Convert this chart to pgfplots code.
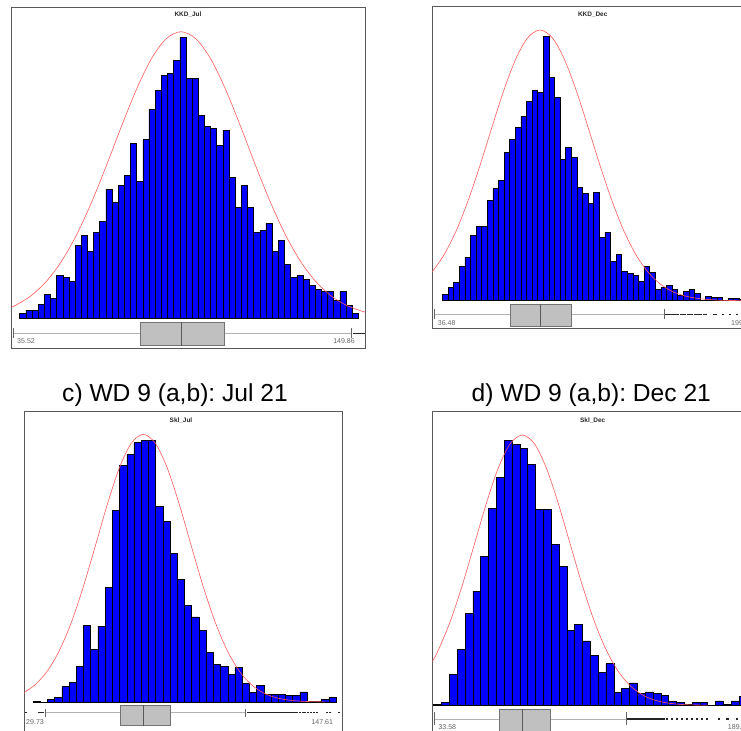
\documentclass[border=0pt]{standalone}
\usepackage{fontspec}
\setmainfont{Liberation Sans}
\usepackage{pgfplots}
\usepackage{pgfplotstable}
\pgfplotsset{compat=1.18}
\frenchspacing

\definecolor{fitred}{RGB}{255,90,90}
\definecolor{boxgray}{RGB}{192,192,192}

% all panel coordinates are in pixels of the source figure:
% x = horizontal position, y = height above the histogram base line
\pgfplotsset{
  panel/.style={scale only axis, axis line style={draw=black!65, line width=0.6pt},
    xtick=\empty, ytick=\empty},
  hist/.style={ybar interval, fill=blue, draw=black, line width=0.45pt},
  fit/.style={smooth, draw=fitred, line width=0.5pt},
  whisk/.style={draw=black!30, line width=0.8pt},
  wtick/.style={draw=black!60, line width=0.5pt},
  bx/.style={fill=boxgray, draw=black!55, line width=0.6pt},
  med/.style={draw=black!65, line width=0.6pt},
  outl/.style={only marks, mark=-, mark size=0.9pt, mark options={line width=1.2pt, draw=black!85}},
}
\tikzset{
  minmax/.style={font=\fontsize{6}{7}\selectfont, text=black!60, inner sep=0pt},
  subt/.style={font=\fontsize{5.5}{6}\selectfont\bfseries, text=black!85, inner sep=0pt},
}

\pgfplotstableread{
h
5
8.3
8.3
14
24
20
42.7
40.7
37.3
73.3
82.7
66.7
86
97.3
129.3
116
133.3
142.7
175
137.3
179
209.3
227.7
243.3
245
258.3
280.7
240
240
203.3
192.3
190
172.7
188.3
140.7
110.7
133.3
110.7
86
87.7
95.3
66.7
78
54
40.7
42.7
39
32.7
29.3
27.3
27.3
18
27.3
13.3
4.7
0
}\kkdjul

\pgfplotstableread{
h
6.3
13
18
34.3
43.3
65.7
74
74
100.7
112
120.3
148.3
161.7
173
184.3
199.7
210.3
208.3
264.7
223.7
203
141.7
153.3
143
113.7
107.3
97.3
108.3
63.7
68.3
39
46
29.7
27.7
25.7
19.7
34.3
28.3
11.3
13.7
15
11.3
5
9
11.3
7.7
0
4
3
3.7
0
2.3
2.3
1.5
1
0
}\kkddec

\pgfplotstableread{
h
1
0
3
4.7
15.3
19.7
35.8
77
52.7
76
114.3
191.7
236.3
248
259.7
261.3
261.3
195.3
181
148.5
123
97
85.2
71.6
49.5
37.3
35.5
27.3
34.5
18.5
10
17
7.6
7.6
7.6
6.3
6.3
10.2
0.8
0.8
3
4.8
0
}\skljul

\pgfplotstableread{
h
1.3
3
31.3
56
91.7
114.3
149
196.7
228.3
265
261.3
256.7
241.3
196.3
196.3
161.3
139
75.3
80.7
64.5
50.2
33
41.7
13.3
16.8
22.5
11.7
13.5
11.8
10
4.3
3
1.3
3
3
0
4.5
1.3
4.5
9
0
}\skldec

\begin{document}
\begin{tikzpicture}
\useasboundingbox (0,0) rectangle (22.23cm,-21.9cm);
\clip (0,0) rectangle (22.23cm,-21.9cm);
\fill[white] (0,0) rectangle (22.23cm,-21.9cm);

% a) KKD_Jul
\begin{axis}[panel, at={(0.33cm,-10.449cm)}, anchor=south west,
  width=10.62cm, height=10.23cm, xmin=11, xmax=365, ymin=-30, ymax=311]
\addplot[hist] table[x expr={19.7+\coordindex*6.157}, y=h] {\kkdjul};
\addplot[fit] coordinates {
  (11,10.9) (16,13.2) (31,22.5) (46,36.5) (61,56.3) (76,82.4) (91,114.7)
  (106,151.7) (121,190.8) (136,227.9) (151,258.9) (166,279.4) (181,286.6)
  (196,279.4) (211,258.9) (226,227.9) (241,190.8) (256,151.7) (271,114.7)
  (286,82.4) (301,56.3) (316,36.5) (331,22.5) (346,13.2) (361,7.4) (365,6.2)};
\addplot[whisk] coordinates {(13.7,-15) (351.7,-15)};
\addplot[wtick] coordinates {(13.7,-10) (13.7,-20)};
\addplot[wtick] coordinates {(351.7,-10) (351.7,-20)};
\addplot[bx] coordinates {(140,-4) (224.3,-4) (224.3,-27.4) (140,-27.4)} -- cycle;
\addplot[med] coordinates {(181,-4) (181,-27.4)};
\addplot[outl] coordinates {(354,-15) (356.5,-15) (359,-15) (361.5,-15) (364,-15)};
\node[subt] at (axis cs:188,303.3) {KKD\_Jul};
\node[minmax, anchor=west] at (axis cs:17,-22.4) {35.52};
\node[minmax, anchor=east] at (axis cs:355,-22.4) {149.86};
\end{axis}

% b) KKD_Dec
\begin{axis}[panel, at={(12.969cm,-9.849cm)}, anchor=south west,
  width=9.621cm, height=9.669cm, xmin=432.3, xmax=753, ymin=-27.6, ymax=294.7]
\addplot[hist] table[x expr={442.5+\coordindex*5.6}, y=h] {\kkddec};
\addplot[fit] coordinates {
  (432.3,29.0) (444,45.9) (456,69.5) (468,99.8) (480,135.3) (492,173.7)
  (504,210.9) (516,242.3) (528,263.3) (540,270.7) (552,263.3) (564,242.3)
  (576,210.9) (588,173.7) (600,135.3) (612,99.8) (624,69.5) (636,45.9)
  (648,28.6) (660,16.9) (672,9.4) (684,5.0) (696,2.5) (708,1.2) (720,0.5)
  (732,0.2) (753,0.05)};
\addplot[whisk] coordinates {(434.3,-13.6) (664.3,-13.6)};
\addplot[wtick] coordinates {(434.3,-8.6) (434.3,-18.6)};
\addplot[wtick] coordinates {(664.3,-8.6) (664.3,-18.6)};
\addplot[bx] coordinates {(510,-3.3) (571.3,-3.3) (571.3,-25.3) (510,-25.3)} -- cycle;
\addplot[med] coordinates {(540.3,-3.3) (540.3,-25.3)};
\addplot[outl] coordinates {(666,-13.6) (668,-13.6) (670,-13.6) (672,-13.6)
  (674,-13.6) (676,-13.6) (678,-13.6) (681,-13.6) (683,-13.6) (685,-13.6)
  (688,-13.6) (690,-13.6) (692,-13.6) (695,-13.6) (697,-13.6) (699,-13.6)
  (701,-13.6) (704,-13.6) (706,-13.6) (714,-13.6) (716,-13.6) (723.3,-13.6)
  (730,-13.6) (736.7,-13.6) (745,-13.6)};
\node[subt] at (axis cs:592.7,285.7) {KKD\_Dec};
\node[minmax, anchor=west] at (axis cs:437.7,-22) {36.48};
\node[minmax, anchor=west] at (axis cs:731,-22) {199.86};
\end{axis}

% c) Skl_Jul
\node[anchor=base, font=\fontsize{21}{25}\selectfont] at (5.25cm,-12.051cm) {c) WD 9 (a,b): Jul 21};
\begin{axis}[panel, at={(0.72cm,-21.96cm)}, anchor=south west,
  width=9.561cm, height=9.609cm, xmin=24, xmax=342.7, ymin=-30, ymax=290.3]
\addplot[hist] table[x expr={33+\coordindex*7.214}, y=h] {\skljul};
\addplot[fit] coordinates {
  (24,9.6) (35.3,17.4) (47.3,30.9) (59.3,51.3) (71.3,79.5) (83.3,115.2)
  (95.3,156.0) (107.3,197.6) (119.3,233.9) (131.3,258.8) (143.3,267.7)
  (155.3,258.8) (167.3,233.9) (179.3,197.6) (191.3,156.0) (203.3,115.2)
  (215.3,79.5) (227.3,51.3) (239.3,30.9) (251.3,17.4) (263.3,9.2)
  (275.3,4.5) (287.3,2.1) (299.3,0.9) (311.3,0.4) (325,0.15)};
\addplot[whisk] coordinates {(45.7,-10.3) (245,-10.3)};
\addplot[wtick] coordinates {(45.7,-6.5) (45.7,-14.5)};
\addplot[wtick] coordinates {(245,-6.5) (245,-14.5)};
\addplot[bx] coordinates {(120,-3) (170,-3) (170,-23.7) (120,-23.7)} -- cycle;
\addplot[med] coordinates {(143.3,-3) (143.3,-23.7)};
\addplot[outl] coordinates {(26,-10.3) (39.5,-10.3) (42.5,-10.3)
  (248,-10.3) (250,-10.3) (252,-10.3) (254.5,-10.3) (257,-10.3) (259,-10.3)
  (261,-10.3) (263.5,-10.3) (266,-10.3) (268,-10.3) (270.5,-10.3) (273,-10.3)
  (275,-10.3) (277.5,-10.3) (280,-10.3) (282,-10.3) (284.5,-10.3) (287,-10.3)
  (289.5,-10.3) (292,-10.3) (294.5,-10.3) (297,-10.3) (300,-10.3) (303,-10.3)
  (305,-10.3) (308,-10.3) (311,-10.3) (314,-10.3) (317,-10.3)
  (327,-10.3) (330,-10.3) (339,-10.3)};
\node[subt] at (axis cs:181,281.3) {Skl\_Jul};
\node[minmax, anchor=west] at (axis cs:26,-20.3) {29.73};
\node[minmax, anchor=east] at (axis cs:333.3,-20.3) {147.61};
\end{axis}

% d) Skl_Dec
\node[anchor=base, font=\fontsize{21}{25}\selectfont] at (17.739cm,-12.051cm) {d) WD 9 (a,b): Dec 21};
\begin{axis}[panel, at={(12.969cm,-22.35cm)}, anchor=south west,
  width=9.621cm, height=9.999cm, xmin=432.3, xmax=753, ymin=-39.7, ymax=293.6]
\addplot[hist] table[x expr={433.7+\coordindex*7.83}, y=h] {\skldec};
\addplot[fit] coordinates {
  (432.3,43.6) (438.3,55.1) (450.3,84.0) (462.3,120.1) (474.3,160.8)
  (486.3,201.8) (498.3,237.4) (510.3,261.7) (522.3,270.3) (534.3,261.7)
  (546.3,237.4) (558.3,201.8) (570.3,160.8) (582.3,120.1) (594.3,84.0)
  (606.3,55.1) (618.3,33.9) (630.3,19.5) (642.3,10.5) (654.3,5.3)
  (666.3,2.5) (678.3,1.1) (690.3,0.45) (708,0.15)};
\addplot[whisk] coordinates {(434,-13.7) (626,-13.7)};
\addplot[wtick] coordinates {(434,-7) (434,-19.7)};
\addplot[wtick] coordinates {(626,-7) (626,-19.7)};
\addplot[bx] coordinates {(499,-3.7) (550,-3.7) (550,-25.7) (499,-25.7)} -- cycle;
\addplot[med] coordinates {(522.3,-3.7) (522.3,-25.7)};
\addplot[outl] coordinates {(628,-13.7) (630,-13.7) (632,-13.7) (634,-13.7)
  (636.5,-13.7) (639,-13.7) (641,-13.7) (643,-13.7) (645.5,-13.7) (648,-13.7)
  (650,-13.7) (652,-13.7) (654.5,-13.7) (657,-13.7) (659,-13.7) (661,-13.7)
  (663.5,-13.7) (667,-13.7) (671.7,-13.7) (676.7,-13.7) (681.7,-13.7)
  (686.7,-13.7) (691.7,-13.7) (696.7,-13.7) (701.7,-13.7) (706.7,-13.7)
  (719,-13.7) (727.5,-13.7) (737,-13.7)};
\node[subt] at (axis cs:592.7,284.6) {Skl\_Dec};
\node[minmax, anchor=west] at (axis cs:438.3,-21.4) {33.58};
\node[minmax, anchor=west] at (axis cs:727.7,-21.4) {189.61};
\end{axis}
\end{tikzpicture}
\end{document}
